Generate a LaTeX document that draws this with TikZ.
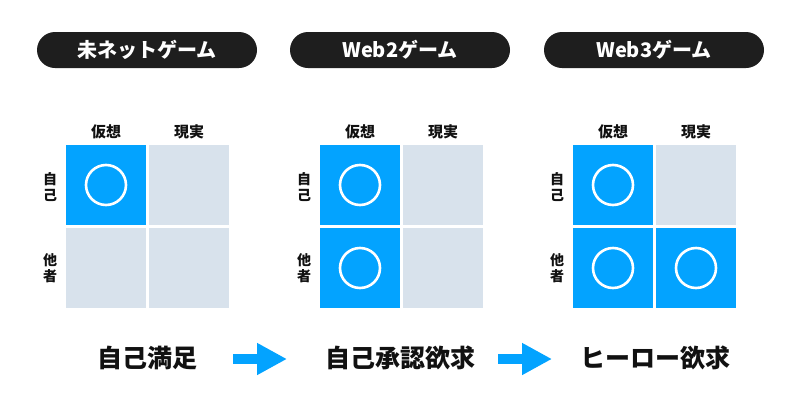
\documentclass[tikz,border=0pt]{standalone}
\usepackage{fontspec}
\setmainfont{Noto Sans CJK JP}
\usetikzlibrary{arrows.meta}
\definecolor{blu}{HTML}{03A3FF}
\definecolor{gry}{HTML}{D8E2EC}
\definecolor{pill}{HTML}{1E1E1E}
\definecolor{ink}{HTML}{111111}
\tikzset{
  pillbox/.style={fill=pill, rounded corners=18pt, minimum width=220pt, minimum height=36pt, inner sep=0pt, text=white, font=\fontsize{20}{24}\selectfont\bfseries},
  cellon/.style={fill=blu, minimum size=80pt, inner sep=0pt, outer sep=0pt, anchor=north west},
  celloff/.style={fill=gry, minimum size=80pt, inner sep=0pt, outer sep=0pt, anchor=north west},
  ring/.style={circle, draw=white, line width=2.6pt, minimum size=40pt, inner sep=0pt},
  collab/.style={text=ink, font=\fontsize{15}{18}\selectfont\bfseries},
  rowlab/.style={text=ink, align=center, font=\fontsize{14}{16.5}\selectfont\bfseries},
  biglab/.style={text=ink, font=\fontsize{25}{30}\selectfont\bfseries},
  flow/.style={draw=blu, line width=10pt, -{Triangle[length=30pt, width=30pt]}}
}
\begin{document}
\begin{tikzpicture}[x=1pt, y=-1pt]
\path[fill=white, use as bounding box] (0,0) rectangle (800,402);
% pills
\node[pillbox] (p1) at (147,50) {未ネットゲーム};
\node[pillbox] (p2) at (400,50) {Web2ゲーム};
\node[pillbox] (p3) at (654,50) {Web3ゲーム};
% grid 1
\node[cellon]  (a11) at (66,145) {};
\node[celloff] (a12) at (149,145) {};
\node[celloff] (a21) at (66,228) {};
\node[celloff] (a22) at (149,228) {};
\node[ring] (ra11) at (a11) {};
% grid 2
\node[cellon]  (b11) at (320,145) {};
\node[celloff] (b12) at (403,145) {};
\node[cellon]  (b21) at (320,228) {};
\node[celloff] (b22) at (403,228) {};
\node[ring] (rb11) at (b11) {};
\node[ring] (rb21) at (b21) {};
% grid 3
\node[cellon]  (c11) at (573,145) {};
\node[celloff] (c12) at (656,145) {};
\node[cellon]  (c21) at (573,228) {};
\node[cellon]  (c22) at (656,228) {};
\node[ring] (rc11) at (c11) {};
\node[ring] (rc21) at (c21) {};
\node[ring] (rc22) at (c22) {};
% column labels
\node[collab] (k1a) at (106,132) {仮想};
\node[collab] (k1b) at (189,132) {現実};
\node[collab] (k2a) at (360,132) {仮想};
\node[collab] (k2b) at (443,132) {現実};
\node[collab] (k3a) at (613,132) {仮想};
\node[collab] (k3b) at (696,132) {現実};
% row labels
\node[rowlab] (s1a) at (50,187) {自\\己};
\node[rowlab] (s1b) at (50,268) {他\\者};
\node[rowlab] (s2a) at (304,187) {自\\己};
\node[rowlab] (s2b) at (304,268) {他\\者};
\node[rowlab] (s3a) at (557,187) {自\\己};
\node[rowlab] (s3b) at (557,268) {他\\者};
% bottom labels
\node[biglab] (l1) at (147,358) {自己満足};
\node[biglab] (l2) at (400,358) {自己承認欲求};
\node[biglab] (l3) at (655,358) {ヒーロー欲求};
% arrows
\coordinate (f1s) at (233,359);
\coordinate (f1e) at (287,359);
\coordinate (f2s) at (498,359);
\coordinate (f2e) at (552,359);
\draw[flow] (f1s) -- (f1e);
\draw[flow] (f2s) -- (f2e);
\end{tikzpicture}
\end{document}
